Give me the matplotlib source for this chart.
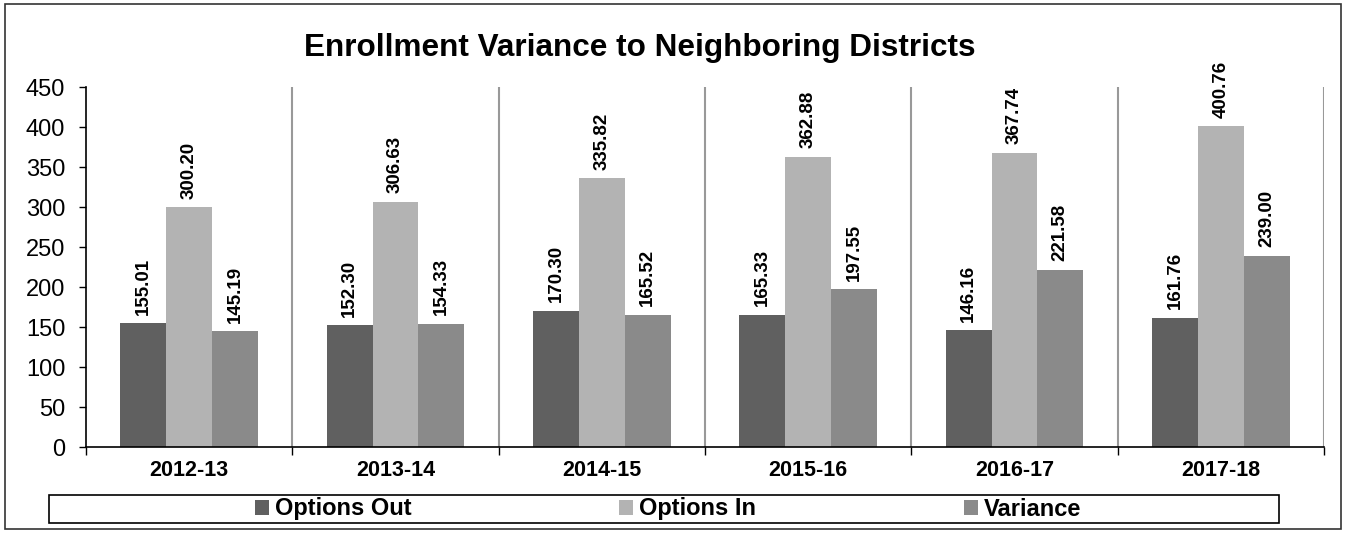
import matplotlib
matplotlib.use("Agg")
import matplotlib.pyplot as plt
import numpy as np
from matplotlib.patches import Rectangle, Patch

years = ["2012-13", "2013-14", "2014-15", "2015-16", "2016-17", "2017-18"]
options_out = [155.01, 152.30, 170.30, 165.33, 146.16, 161.76]
options_in = [300.20, 306.63, 335.82, 362.88, 367.74, 400.76]
variance = [145.19, 154.33, 165.52, 197.55, 221.58, 239.00]
series_names = ["Options Out", "Options In", "Variance"]
colors = ["#606060", "#b3b3b3", "#8a8a8a"]

plt.rcParams['font.family'] = ['Liberation Sans', 'DejaVu Sans']

fig = plt.figure(figsize=(13.46, 5.33), dpi=100)
W, H = 1346, 533
ax = fig.add_axes([86 / W, 1 - 447 / H, (1324 - 86) / W, (447 - 87) / H])

x = np.arange(len(years))
bw = 0.222
for i, (vals, c) in enumerate(zip([options_out, options_in, variance], colors)):
    pos = x + (i - 1) * bw
    bars = ax.bar(pos, vals, width=bw, color=c, edgecolor='none', zorder=2,
                  label=series_names[i])
    for b, v in zip(bars, vals):
        ax.annotate(f"{v:.2f}", (b.get_x() + b.get_width() / 2, v),
                    xytext=(0, 6), textcoords='offset points',
                    rotation=90, ha='center', va='bottom',
                    fontsize=13.5, fontweight='bold')

ax.set_xlim(-0.5, len(years) - 0.5)
ax.set_ylim(0, 450)
ax.set_yticks(np.arange(0, 451, 50))
ax.tick_params(axis='y', labelsize=17, length=5, width=1, direction='out', pad=10)

# separators
for b in np.arange(0.5, len(years), 1.0):
    ax.axvline(b, color='#999999', lw=1.5, zorder=1)

ax.set_xticks(x)
ax.set_xticklabels(years, fontsize=15.5, fontweight='bold')
ax.tick_params(axis='x', which='major', length=0, pad=9)
ax.set_xticks(np.arange(-0.5, len(years), 1.0), minor=True)
ax.tick_params(axis='x', which='minor', length=6, width=1, direction='out')

for s in ['top', 'right']:
    ax.spines[s].set_visible(False)
ax.spines['left'].set_linewidth(1.2)
ax.spines['bottom'].set_linewidth(1.2)

fig.text(640 / W, 1 - 48 / H, "Enrollment Variance to Neighboring Districts",
         ha='center', va='center', fontsize=22.7, fontweight='bold')

# outer border
fig.add_artist(Rectangle((5 / W, 1 - 529 / H), (1341 - 5) / W, (529 - 4) / H,
                         transform=fig.transFigure, fill=False,
                         edgecolor='#333333', lw=1.2))
# legend box
fig.add_artist(Rectangle((49 / W, 1 - 523 / H), (1279 - 49) / W, (523 - 495) / H,
                         transform=fig.transFigure, fill=False,
                         edgecolor='black', lw=1.2))
handles = [Patch(facecolor=c, edgecolor='none') for c in colors]
leg = fig.legend(handles, series_names, loc='center',
                 bbox_to_anchor=(668 / W, 1 - 509 / H), ncol=3, frameon=False,
                 prop={'weight': 'bold', 'size': 17}, handlelength=0.6,
                 handleheight=0.6, handletextpad=0.25, columnspacing=8.8,
                 borderpad=0)

fig.savefig("out.png", dpi=100)
